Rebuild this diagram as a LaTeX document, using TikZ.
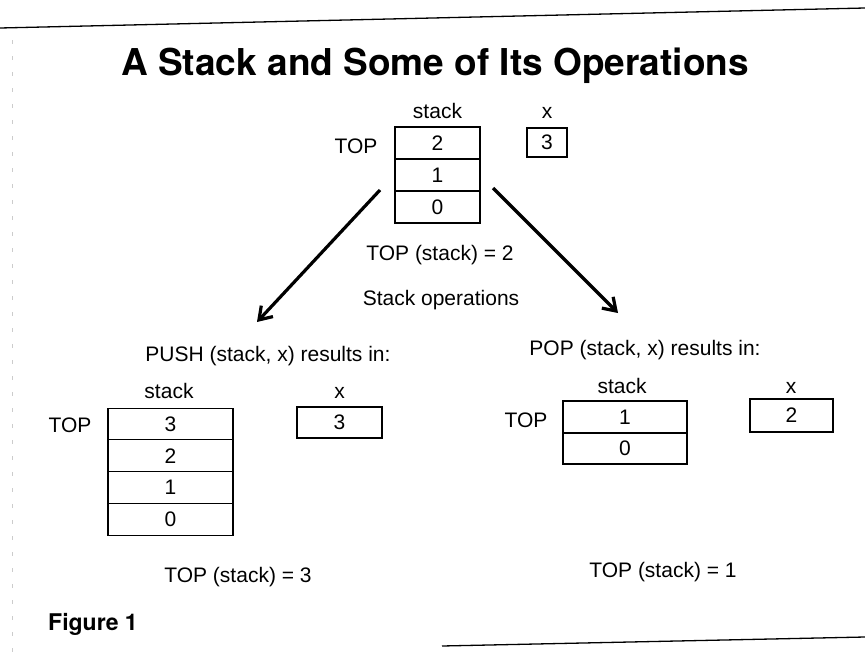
\documentclass[tikz,border=0pt]{standalone}
\usepackage{fontspec}
\setmainfont{Liberation Sans}
\newfontfamily\heros{TeX Gyre Heros}
\usetikzlibrary{arrows.meta}
\begin{document}
\begin{tikzpicture}[x=1pt,y=-1pt,
  txt/.style={font=\fontsize{21}{24}\selectfont, inner sep=0pt, anchor=base},
  cell/.style={draw, line width=1.1pt, inner sep=0pt, font=\fontsize{21}{24}\selectfont},
  rulestyle/.style={line width=1.3pt},
  oparrow/.style={line width=3.2pt, -{Straight Barb[length=12pt,width=16pt]}}]
\useasboundingbox (0,0) rectangle (865,656);
% page rules
\draw[rulestyle] (0,28) -- (865,8);
\draw[rulestyle] (442,646) -- (865,637);
\draw[gray!40, line width=0.5pt, dash pattern=on 4pt off 12pt] (12,40) -- (12,656);
% title
\node[inner sep=0pt, anchor=base, font=\heros\bfseries\fontsize{37}{42}\selectfont] (title) at (435,75) {A Stack and Some of Its Operations};
% top stack
\node[txt] (slbl) at (437.5,118) {stack};
\node[txt] (xlbl) at (547,118) {x};
\node[txt] (toplbl) at (356,153) {TOP};
\node[cell, minimum width=85pt, minimum height=32pt] (s2) at (437.5,143) {2};
\node[cell, minimum width=85pt, minimum height=32pt] (s1) at (437.5,175) {1};
\node[cell, minimum width=85pt, minimum height=32pt] (s0) at (437.5,207) {0};
\node[cell, minimum width=40pt, minimum height=29pt] (xv) at (547,142.5) {3};
\node[txt] (topeq) at (440,260) {TOP (stack) = 2};
\node[txt] (ops) at (441,305) {Stack operations};
% arrows
\coordinate (la) at (380,190);
\coordinate (lt) at (257,322);
\coordinate (ra) at (493,188);
\coordinate (rt) at (618,313);
\draw[oparrow] (la) -- (lt);
\draw[oparrow] (ra) -- (rt);
% PUSH
\node[txt] (push) at (268,361) {PUSH (stack, x) results in:};
\node[txt] (pslbl) at (169,398) {stack};
\node[txt] (pxlbl) at (339.5,398) {x};
\node[txt] (ptop) at (70,432) {TOP};
\node[cell, minimum width=125pt, minimum height=31.75pt] (p3) at (170.5,424) {3};
\node[cell, minimum width=125pt, minimum height=31.75pt] (p2) at (170.5,455.75) {2};
\node[cell, minimum width=125pt, minimum height=31.75pt] (p1) at (170.5,487.5) {1};
\node[cell, minimum width=125pt, minimum height=31.75pt] (p0) at (170.5,519.25) {0};
\node[cell, minimum width=85pt, minimum height=31pt] (px) at (339.5,422.5) {3};
\node[txt] (ptopeq) at (238,582) {TOP (stack) = 3};
% POP
\node[txt] (pop) at (645,355) {POP (stack, x) results in:};
\node[txt] (qslbl) at (622,393) {stack};
\node[txt] (qxlbl) at (791,393) {x};
\node[txt] (qtop) at (526,427) {TOP};
\node[cell, minimum width=124pt, minimum height=32pt] (q1) at (625,417) {1};
\node[cell, minimum width=124pt, minimum height=31pt] (q0) at (625,448.5) {0};
\node[cell, minimum width=83pt, minimum height=33pt] (qx) at (791.5,415.5) {2};
\node[txt] (qtopeq) at (663,577) {TOP (stack) = 1};
% caption
\node[inner sep=0pt, anchor=base west, font=\heros\bfseries\fontsize{23}{26}\selectfont] (fig) at (48,630) {Figure 1};
\end{tikzpicture}
\end{document}
